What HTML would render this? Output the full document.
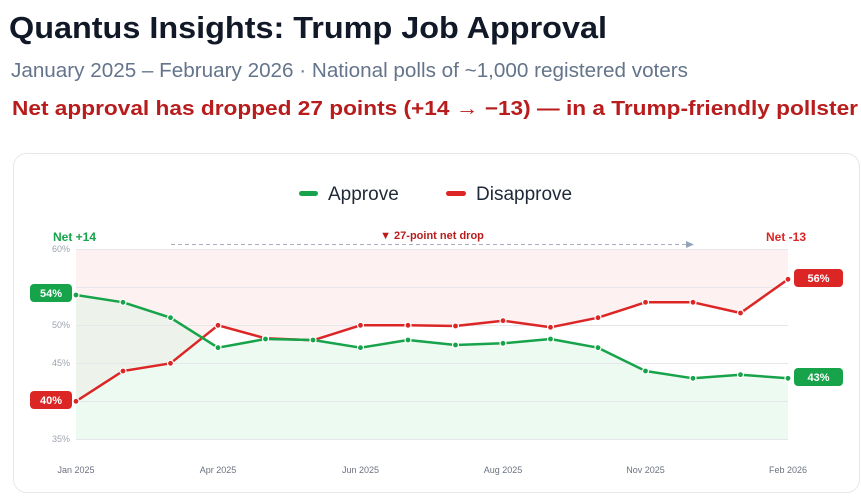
<!DOCTYPE html>
<html><head><meta charset="utf-8"><style>
html,body{margin:0;padding:0;background:#fff;width:861px;height:504px;overflow:hidden}
svg{display:block;font-family:"Liberation Sans",sans-serif}
</style></head><body>
<svg width="861" height="504" viewBox="0 0 861 504">
<text x="9" y="38" font-size="31" font-weight="bold" fill="#111827" textLength="598" lengthAdjust="spacingAndGlyphs">Quantus Insights: Trump Job Approval</text>
<text x="11" y="77" font-size="20" fill="#64748b" textLength="677" lengthAdjust="spacingAndGlyphs">January 2025 – February 2026 · National polls of ~1,000 registered voters</text>
<text x="12" y="115" font-size="20" font-weight="bold" fill="#b91c1c" textLength="846" lengthAdjust="spacingAndGlyphs">Net approval has dropped 27 points (+14 → −13) — in a Trump-friendly pollster</text>
<rect x="13.5" y="153.5" width="846" height="339" rx="13" fill="#fff" stroke="#e5e7eb"/>
<rect x="299" y="191" width="19" height="5" rx="2.5" fill="#16a34a"/>
<text x="328" y="200" font-size="19" fill="#1f2937">Approve</text>
<rect x="446" y="191" width="20" height="5" rx="2.5" fill="#dc2626"/>
<text x="476" y="200" font-size="19" fill="#1f2937">Disapprove</text>
<defs>
<clipPath id="cp"><rect x="76" y="249" width="712" height="190"/></clipPath>
</defs>
<g clip-path="url(#cp)">
<polygon fill="#fde8e8" fill-opacity="0.6" points="76,249 788,249 788,279.3 740.5,313 693,302.3 645.5,302.3 598,317.7 550.5,327.3 503,320.7 455.5,326 408,325.3 360.5,325.3 313,340.3 265.5,338.3 218,325.3 170.5,363.3 123,371 76,401.3"/>
<polygon fill="#dcf5e3" fill-opacity="0.5" points="76,295 123,302.3 170.5,317.7 218,347.7 265.5,339 313,340 360.5,347.7 408,340 455.5,345 503,343.3 550.5,339 598,347.7 645.5,371 693,378.3 740.5,374.7 788,378.3 788,439 76,439"/>
</g>
<g stroke="#e5e7eb" stroke-width="1">
<line x1="76" x2="788" y1="249.5" y2="249.5"/><line x1="76" x2="788" y1="287.5" y2="287.5"/><line x1="76" x2="788" y1="325.5" y2="325.5"/><line x1="76" x2="788" y1="363.5" y2="363.5"/><line x1="76" x2="788" y1="401.5" y2="401.5"/><line x1="76" x2="788" y1="439.5" y2="439.5"/>
</g>
<g font-size="9" fill="#9ca3af" text-anchor="end">
<text x="70" y="252">60%</text><text x="70" y="328">50%</text><text x="70" y="366">45%</text><text x="70" y="442">35%</text>
</g>
<g font-size="9" fill="#6b7280" text-anchor="middle">
<text x="76" y="473">Jan 2025</text><text x="218" y="473">Apr 2025</text><text x="360.5" y="473">Jun 2025</text><text x="503" y="473">Aug 2025</text><text x="645.5" y="473">Nov 2025</text><text x="788" y="473">Feb 2026</text>
</g>
<line x1="171" x2="688" y1="244.5" y2="244.5" stroke="#a8b0bc" stroke-dasharray="4,3"/>
<polygon points="686,241 694,244.5 686,248" fill="#94a3b8"/>
<text x="432" y="239" font-size="11" font-weight="bold" fill="#b91c1c" text-anchor="middle">▼ 27-point net drop</text>
<text x="53" y="241" font-size="12" font-weight="bold" fill="#16a34a">Net +14</text>
<text x="766" y="241" font-size="12" font-weight="bold" fill="#dc2626">Net -13</text>
<polyline fill="none" stroke="#dc2626" stroke-width="2.5" stroke-linejoin="round" points="76,401.3 123,371 170.5,363.3 218,325.3 265.5,338.3 313,340.3 360.5,325.3 408,325.3 455.5,326 503,320.7 550.5,327.3 598,317.7 645.5,302.3 693,302.3 740.5,313 788,279.3"/>
<polyline fill="none" stroke="#16a34a" stroke-width="2.5" stroke-linejoin="round" points="76,295 123,302.3 170.5,317.7 218,347.7 265.5,339 313,340 360.5,347.7 408,340 455.5,345 503,343.3 550.5,339 598,347.7 645.5,371 693,378.3 740.5,374.7 788,378.3"/>
<g fill="#dc2626" stroke="#fff" stroke-width="1.2">
<circle cx="76" cy="401.3" r="3"/><circle cx="123" cy="371" r="3"/><circle cx="170.5" cy="363.3" r="3"/><circle cx="218" cy="325.3" r="3"/><circle cx="265.5" cy="338.3" r="3"/><circle cx="313" cy="340.3" r="3"/><circle cx="360.5" cy="325.3" r="3"/><circle cx="408" cy="325.3" r="3"/><circle cx="455.5" cy="326" r="3"/><circle cx="503" cy="320.7" r="3"/><circle cx="550.5" cy="327.3" r="3"/><circle cx="598" cy="317.7" r="3"/><circle cx="645.5" cy="302.3" r="3"/><circle cx="693" cy="302.3" r="3"/><circle cx="740.5" cy="313" r="3"/><circle cx="788" cy="279.3" r="3"/>
</g>
<g fill="#16a34a" stroke="#fff" stroke-width="1.2">
<circle cx="76" cy="295" r="3"/><circle cx="123" cy="302.3" r="3"/><circle cx="170.5" cy="317.7" r="3"/><circle cx="218" cy="347.7" r="3"/><circle cx="265.5" cy="339" r="3"/><circle cx="313" cy="340" r="3"/><circle cx="360.5" cy="347.7" r="3"/><circle cx="408" cy="340" r="3"/><circle cx="455.5" cy="345" r="3"/><circle cx="503" cy="343.3" r="3"/><circle cx="550.5" cy="339" r="3"/><circle cx="598" cy="347.7" r="3"/><circle cx="645.5" cy="371" r="3"/><circle cx="693" cy="378.3" r="3"/><circle cx="740.5" cy="374.7" r="3"/><circle cx="788" cy="378.3" r="3"/>
</g>
<g font-size="11" font-weight="bold" fill="#fff" text-anchor="middle">
<rect x="30" y="284" width="42" height="18" rx="4" fill="#16a34a"/><text x="51" y="297">54%</text>
<rect x="30" y="391" width="42" height="18" rx="4" fill="#dc2626"/><text x="51" y="404">40%</text>
<rect x="794" y="269" width="49" height="18" rx="4" fill="#dc2626"/><text x="818.5" y="282">56%</text>
<rect x="794" y="368" width="49" height="18" rx="4" fill="#16a34a"/><text x="818.5" y="381">43%</text>
</g>
</svg>
</body></html>
